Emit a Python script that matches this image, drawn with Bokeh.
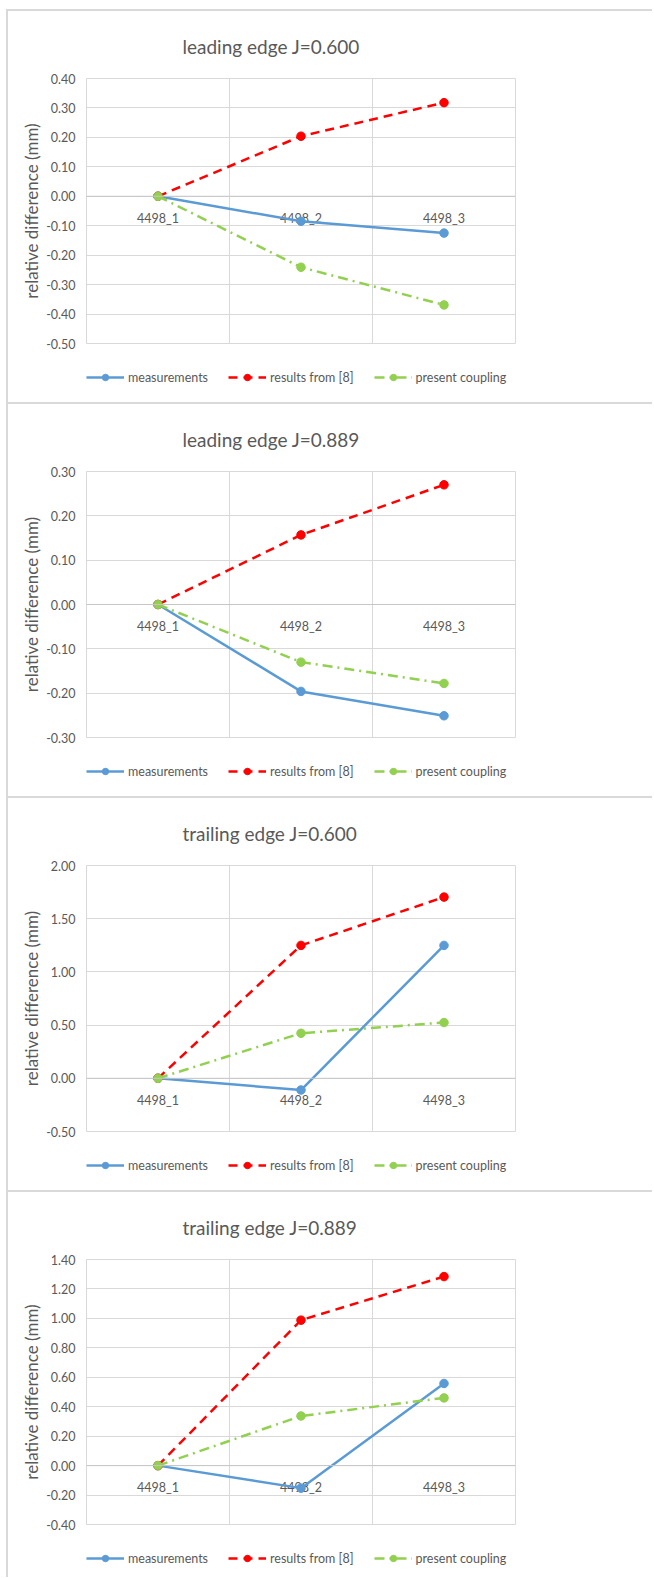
from bokeh.plotting import figure
from bokeh.layouts import column
from bokeh.models import (Range1d, FactorRange, FixedTicker, Span,
                          NumeralTickFormatter, Legend, LegendItem)
from bokeh.core.properties import value
from bokeh.embed import file_html
from bokeh.resources import INLINE

categories = ["4498_1", "4498_2", "4498_3"]
series_names = ["measurements", "results from [8]", "present coupling"]

titles = ["leading edge J=0.600", "leading edge J=0.889",
          "trailing edge J=0.600", "trailing edge J=0.889"]

le600_measurements = [0.0, -0.085, -0.125]
le600_results8 = [0.0, 0.204, 0.318]
le600_present = [0.0, -0.241, -0.369]

le889_measurements = [0.0, -0.196, -0.251]
le889_results8 = [0.0, 0.157, 0.270]
le889_present = [0.0, -0.130, -0.178]

te600_measurements = [0.0, -0.110, 1.249]
te600_results8 = [0.0, 1.249, 1.703]
te600_present = [0.0, 0.423, 0.524]

te889_measurements = [0.0, -0.153, 0.558]
te889_results8 = [0.0, 0.988, 1.284]
te889_present = [0.0, 0.337, 0.460]

y_ticks = [
    [-0.5, -0.4, -0.3, -0.2, -0.1, 0.0, 0.1, 0.2, 0.3, 0.4],
    [-0.3, -0.2, -0.1, 0.0, 0.1, 0.2, 0.3],
    [-0.5, 0.0, 0.5, 1.0, 1.5, 2.0],
    [-0.4, -0.2, 0.0, 0.2, 0.4, 0.6, 0.8, 1.0, 1.2, 1.4],
]

panels = [
    (le600_measurements, le600_results8, le600_present),
    (le889_measurements, le889_results8, le889_present),
    (te600_measurements, te600_results8, te600_present),
    (te889_measurements, te889_results8, te889_present),
]

# layout (not data)
border_top = [67, 66, 67, 67]
frame_h = [263, 264, 264, 263]
legend_fig_h = [40, 40, 40, 34]
GAP_BELOW = 21
FIG_W = 644
FRAME_L = 78
FRAME_W = 427
FONT = "Lato"
TXT = "#595959"
GRID = "#d9d9d9"
BORDER = "2px solid #d9d9d9"
colors = ["#5B9BD5", "#FF0000", "#92D050"]
dashes = ["solid", "9 6", "10 5 2 5"]


def style_line_kwargs(col, dash):
    return dict(line_color=col, line_width=2.5, line_dash=dash)


children = []
for i, (title, data) in enumerate(zip(titles, panels)):
    bt = border_top[i]
    fh = frame_h[i]
    ticks = y_ticks[i]
    p = figure(x_range=FactorRange(factors=categories, range_padding=0),
               y_range=Range1d(ticks[0], ticks[-1]),
               frame_width=FRAME_W, frame_height=fh,
               min_border_left=FRAME_L, min_border_right=FIG_W - FRAME_L - FRAME_W,
               min_border_top=bt, min_border_bottom=GAP_BELOW,
               output_backend="svg", toolbar_location=None,
               title=title)
    p.styles = {"border-top": BORDER, "border-left": BORDER}
    p.title.text_font = FONT
    p.title.text_font_size = "19px"
    p.title.text_font_style = "normal"
    p.title.text_color = TXT
    p.title.align = "left"
    p.title.offset = 96
    p.title.standoff = 42
    p.outline_line_color = GRID
    p.outline_line_width = 1
    p.background_fill_color = "white"
    p.border_fill_color = "white"

    # y axis
    p.yaxis.ticker = FixedTicker(ticks=ticks)
    p.yaxis.formatter = NumeralTickFormatter(format="0.00")
    p.yaxis.axis_line_color = None
    p.yaxis.major_tick_line_color = None
    p.yaxis.minor_tick_line_color = None
    p.yaxis.major_tick_out = 0
    p.yaxis.major_tick_in = 0
    p.yaxis.minor_tick_out = 0
    p.yaxis.major_label_standoff = 11
    p.yaxis.major_label_text_font = FONT
    p.yaxis.major_label_text_font_size = "12.5px"
    p.yaxis.major_label_text_color = TXT
    p.yaxis.axis_label = "relative difference (mm)"
    p.yaxis.axis_label_text_font = FONT
    p.yaxis.axis_label_text_font_size = "17px"
    p.yaxis.axis_label_text_font_style = "normal"
    p.yaxis.axis_label_text_color = TXT
    p.yaxis.axis_label_standoff = 1

    # horizontal axis crosses at zero: zero line + category labels under it
    p.xaxis.visible = False
    p.add_layout(Span(location=0, dimension="width", line_color="#c6c6c6", line_width=1))

    # grids
    p.ygrid.grid_line_color = GRID
    p.ygrid.grid_line_width = 1
    p.xgrid.ticker = FixedTicker(ticks=[1, 2])
    p.xgrid.grid_line_color = GRID
    p.xgrid.grid_line_width = 1

    p.text(x=categories, y=[0.0 for _ in categories], text=categories,
           text_align="center", text_baseline="middle", y_offset=22,
           text_font=value(FONT), text_font_size="12.5px", text_color=TXT)

    for vals, col, dash in zip(data, colors, dashes):
        p.line(categories, vals, **style_line_kwargs(col, dash))
        p.scatter(categories, vals, size=8.5, marker="circle",
                  fill_color=col, line_color=col)
    children.append(p)

    # legend strip below the chart: same series, drawn outside its (empty) view,
    # so only the legend keys show
    lh = legend_fig_h[i]
    lf = figure(width=FIG_W, height=lh,
                x_range=FactorRange(factors=categories, range_padding=0),
                y_range=Range1d(1000, 1001),
                min_border_left=FRAME_L, min_border_right=FIG_W - FRAME_L - FRAME_W,
                min_border_top=0, min_border_bottom=0,
                x_axis_location=None, y_axis_location=None,
                output_backend="svg", toolbar_location=None)
    lf.styles = {"border-left": BORDER}
    lf.outline_line_color = None
    lf.grid.visible = False
    lf.background_fill_color = "white"
    lf.border_fill_color = "white"
    items = []
    for name, vals, col, dash in zip(series_names, data, colors, dashes):
        ln = lf.line(categories, vals, **style_line_kwargs(col, dash))
        sc = lf.scatter(categories, vals, size=8.5, marker="circle",
                        fill_color=col, line_color=col)
        items.append(LegendItem(label=name, renderers=[ln, sc]))
    leg = Legend(items=items, orientation="horizontal", location=(0, lh - 23),
                 glyph_width=38, glyph_height=16, label_height=16,
                 label_standoff=4, spacing=20, padding=0, margin=0,
                 background_fill_alpha=0, border_line_color=None,
                 label_text_font=FONT, label_text_font_size="12.5px",
                 label_text_color=TXT)
    lf.add_layout(leg, "center")
    children.append(lf)

layout = column(*children, spacing=0, margin=(9, 0, 0, 6))
open("out.html", "w").write(file_html(layout, INLINE))
